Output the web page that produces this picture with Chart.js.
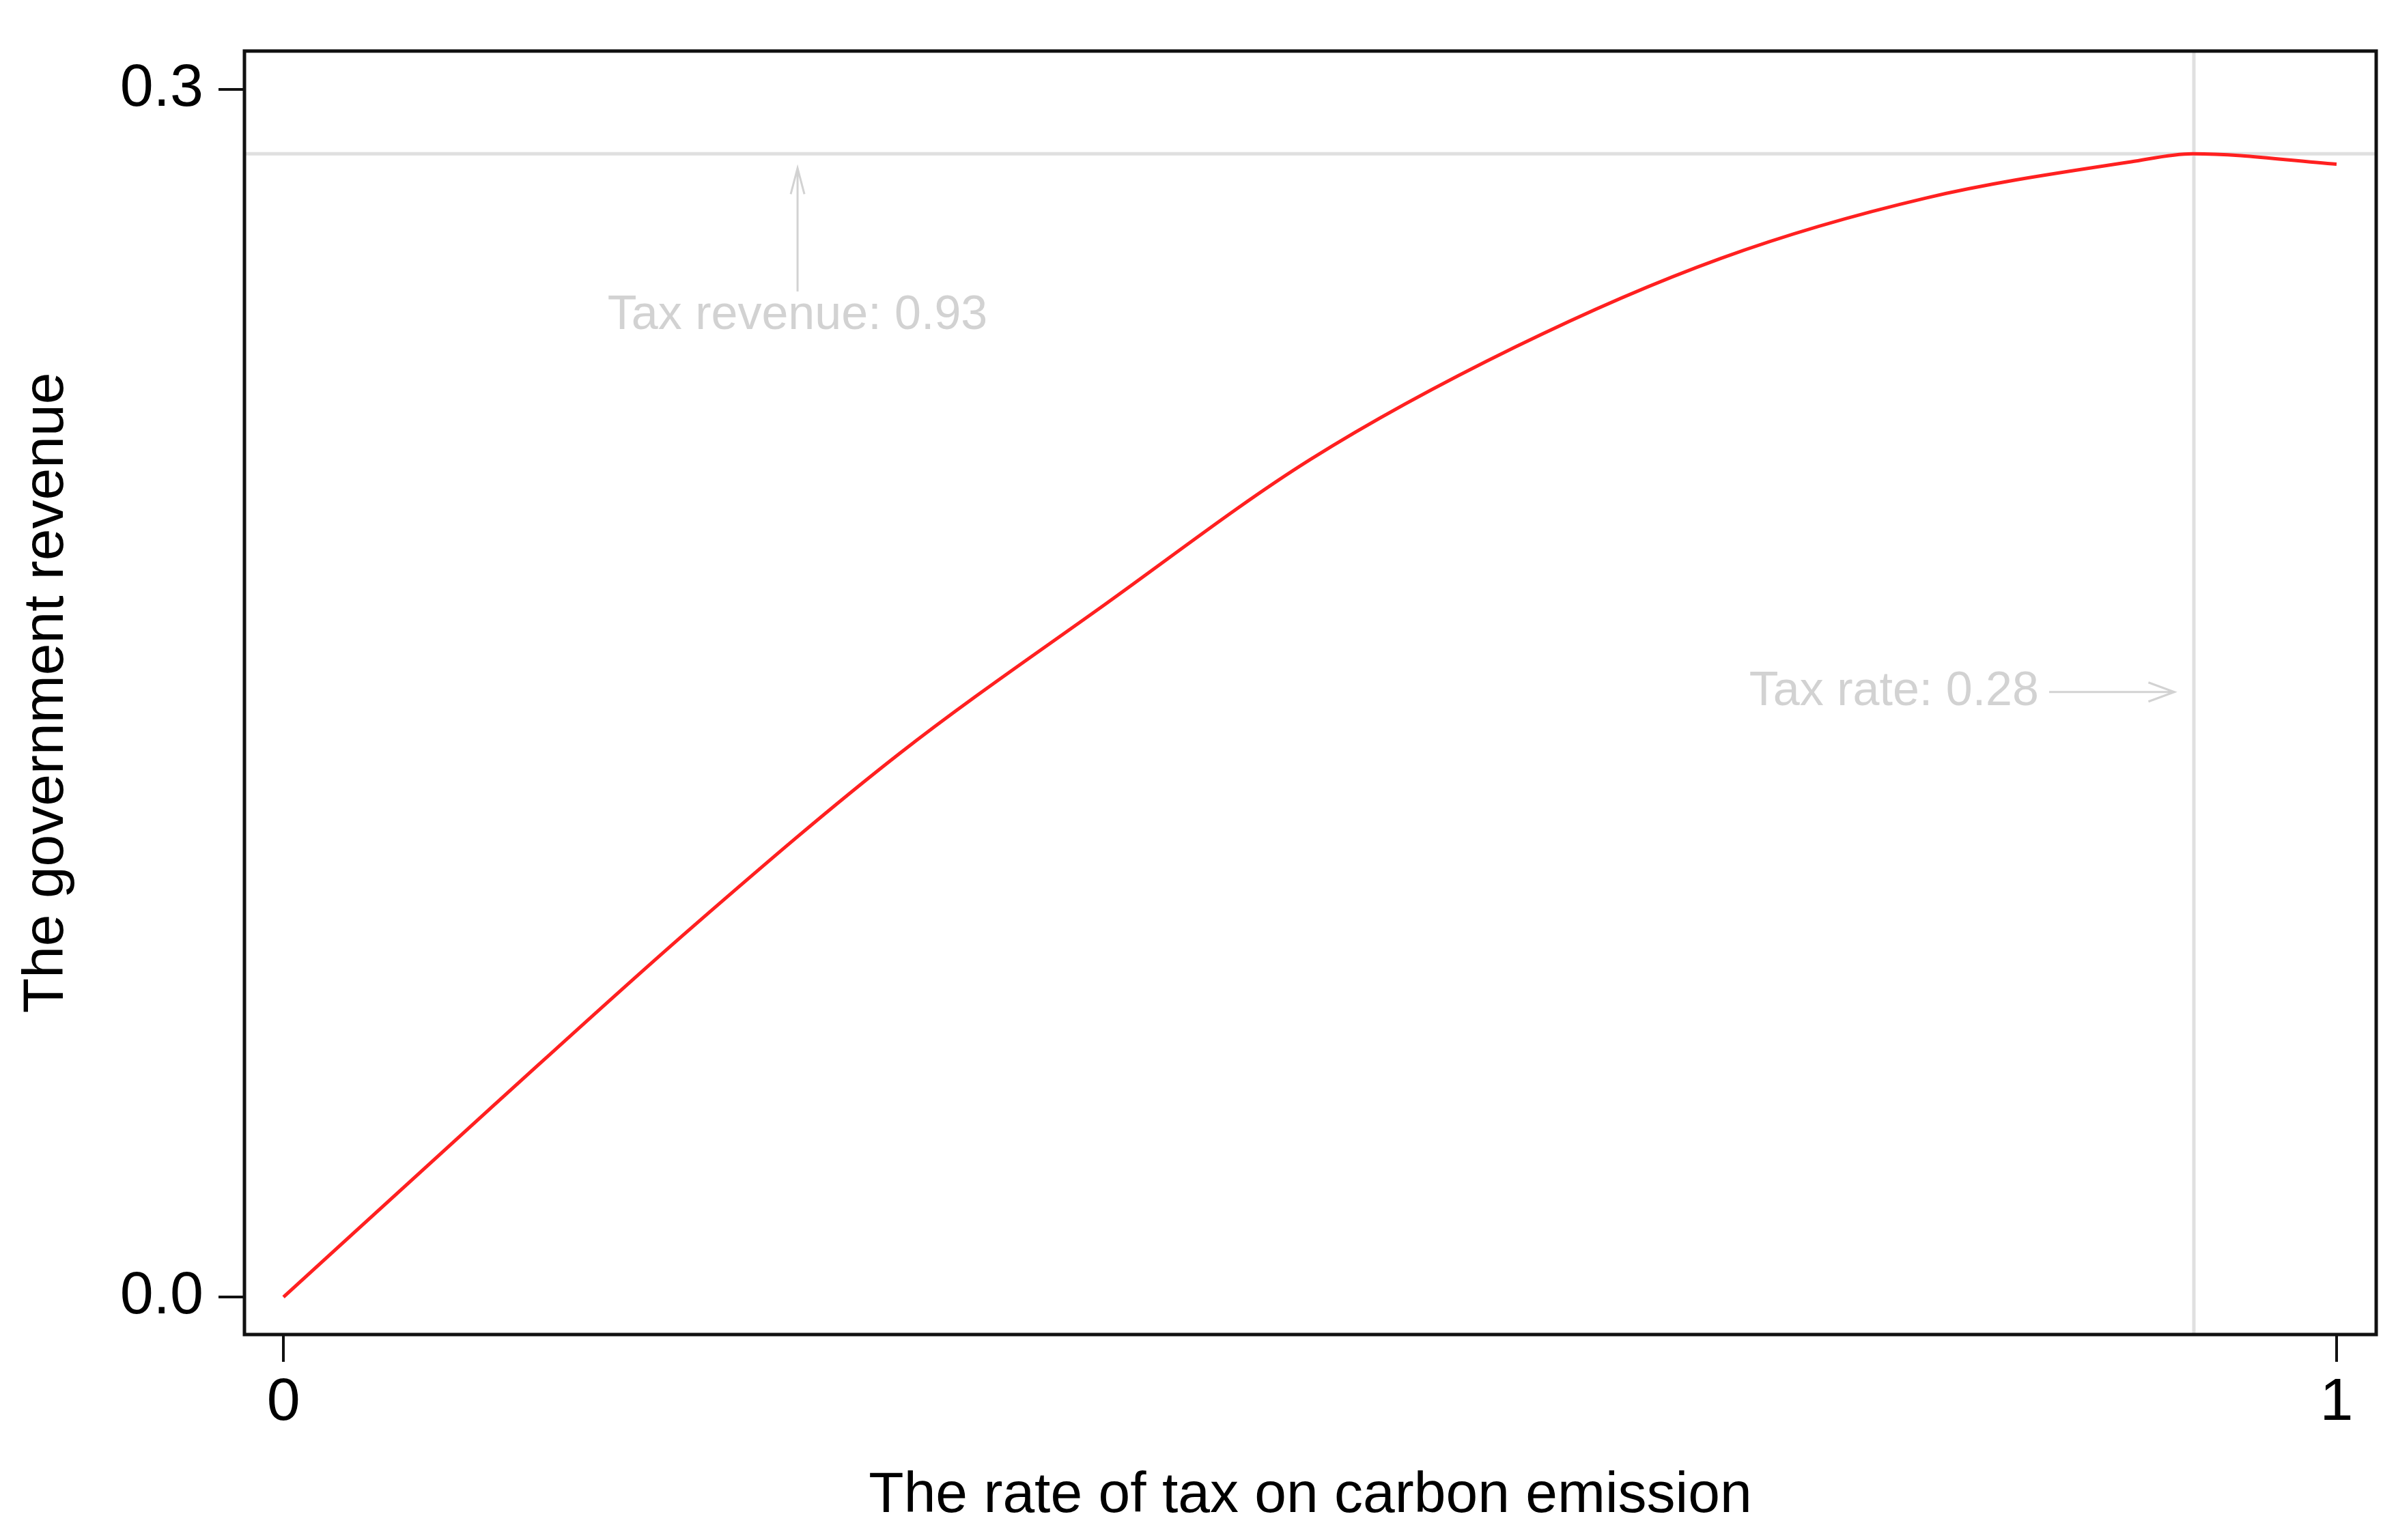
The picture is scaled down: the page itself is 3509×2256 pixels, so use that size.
<!DOCTYPE html>
<html>
<head>
<meta charset="utf-8">
<script src="https://cdn.jsdelivr.net/npm/chart.js@4"></script>
<style>
  html, body { margin: 0; padding: 0; background: #fff; }
  #wrap { width: 3509px; height: 2256px; }
</style>
</head>
<body>
<div id="wrap"><canvas id="revenueChart"></canvas></div>
<script>
// Values
const taxRates = [0, 0.1, 0.2, 0.3, 0.4, 0.5, 0.6, 0.7, 0.8, 0.9, 0.93, 1.0];
const revenue = [0, 0.0465, 0.0923, 0.135, 0.172, 0.208, 0.236, 0.258, 0.273, 0.282, 0.284, 0.2814];
const xTicks = [0, 1];
const yTicks = [0, 0.3];
const optimumRate = 0.9305;
const optimumRevenue = 0.284;

const GREY = "#d2d2d2";
const FONT = "'Liberation Sans', Arial, sans-serif";

// Draw the frame, reference lines and the grey notes
const extrasPlugin = {
  id: "extras",
  beforeDatasetsDraw(chart) {
    const { ctx, chartArea: a, scales: { x, y } } = chart;
    ctx.save();
    ctx.strokeStyle = "#e0e0e0";
    ctx.lineWidth = 5;
    ctx.beginPath();
    ctx.moveTo(a.left, y.getPixelForValue(optimumRevenue));
    ctx.lineTo(a.right, y.getPixelForValue(optimumRevenue));
    ctx.moveTo(x.getPixelForValue(optimumRate), a.top);
    ctx.lineTo(x.getPixelForValue(optimumRate), a.bottom);
    ctx.stroke();

    ctx.strokeStyle = GREY;
    ctx.lineWidth = 3;
    // arrow pointing up at the revenue line
    const ax = x.getPixelForValue(0.2504);
    const aTip = y.getPixelForValue(0.2804);
    ctx.beginPath();
    ctx.moveTo(ax, y.getPixelForValue(0.2498));
    ctx.lineTo(ax, aTip);
    ctx.moveTo(ax - 10, aTip + 38);
    ctx.lineTo(ax, aTip);
    ctx.lineTo(ax + 10, aTip + 38);
    ctx.stroke();
    // arrow pointing right at the rate line
    const ry = y.getPixelForValue(0.1503);
    const rTip = x.getPixelForValue(0.921);
    ctx.beginPath();
    ctx.moveTo(x.getPixelForValue(0.860), ry);
    ctx.lineTo(rTip, ry);
    ctx.moveTo(rTip - 38, ry - 14);
    ctx.lineTo(rTip, ry);
    ctx.lineTo(rTip - 38, ry + 14);
    ctx.stroke();

    ctx.fillStyle = GREY;
    ctx.font = "70px " + FONT;
    ctx.textBaseline = "middle";
    ctx.textAlign = "center";
    ctx.fillText("Tax revenue: 0.93", ax, y.getPixelForValue(0.2438));
    ctx.textAlign = "right";
    ctx.fillText("Tax rate: 0.28", x.getPixelForValue(0.855), ry);
    ctx.restore();
  },
  afterDraw(chart) {
    const { ctx, chartArea: a } = chart;
    ctx.save();
    ctx.strokeStyle = "#111";
    ctx.lineWidth = 5;
    ctx.strokeRect(a.left, a.top, a.right - a.left, a.bottom - a.top);
    ctx.restore();
  },
};

function initChart() {
  const ctx = document.getElementById("revenueChart").getContext("2d");
  new Chart(ctx, {
    type: "line",
    data: {
      datasets: [
        {
          data: taxRates.map((t, i) => ({ x: t, y: revenue[i] })),
          borderColor: "#ff2020",
          borderWidth: 5,
          pointRadius: 0,
          cubicInterpolationMode: "monotone",
          fill: false,
        },
      ],
    },
    options: {
      responsive: true,
      maintainAspectRatio: false,
      animation: false,
      layout: { padding: { top: 38, right: 29, left: 0, bottom: 0 } },
      plugins: { legend: { display: false }, tooltip: { enabled: false } },
      scales: {
        x: {
          type: "linear",
          min: -0.019,
          max: 1.0193,
          afterBuildTicks: (s) => { s.ticks = xTicks.map((v) => ({ value: v })); },
          afterFit: (s) => { s.height = 301; },
          grid: { drawOnChartArea: false, tickLength: 40, color: "#111", lineWidth: 4 },
          border: { display: false },
          ticks: {
            color: "#000",
            font: { family: FONT, size: 88 },
            padding: 8,
            maxRotation: 0,
            callback: (v) => String(v),
          },
          title: {
            display: true,
            text: "The rate of tax on carbon emission",
            color: "#000",
            font: { family: FONT, size: 84 },
            padding: { top: 0, bottom: 14 },
          },
        },
        y: {
          type: "linear",
          min: -0.0093,
          max: 0.3095,
          afterBuildTicks: (s) => { s.ticks = yTicks.map((v) => ({ value: v })); },
          afterFit: (s) => { s.width = 358; },
          grid: { drawOnChartArea: false, tickLength: 38, color: "#111", lineWidth: 4 },
          border: { display: false },
          ticks: {
            color: "#000",
            font: { family: FONT, size: 88 },
            padding: 22,
            callback: (v) => v.toFixed(1),
          },
          title: {
            display: true,
            text: "The government revenue",
            color: "#000",
            font: { family: FONT, size: 84 },
            padding: { top: 18, bottom: 0 },
          },
        },
      },
    },
    plugins: [extrasPlugin],
  });
}

document.addEventListener("DOMContentLoaded", initChart);
</script>
</body>
</html>
